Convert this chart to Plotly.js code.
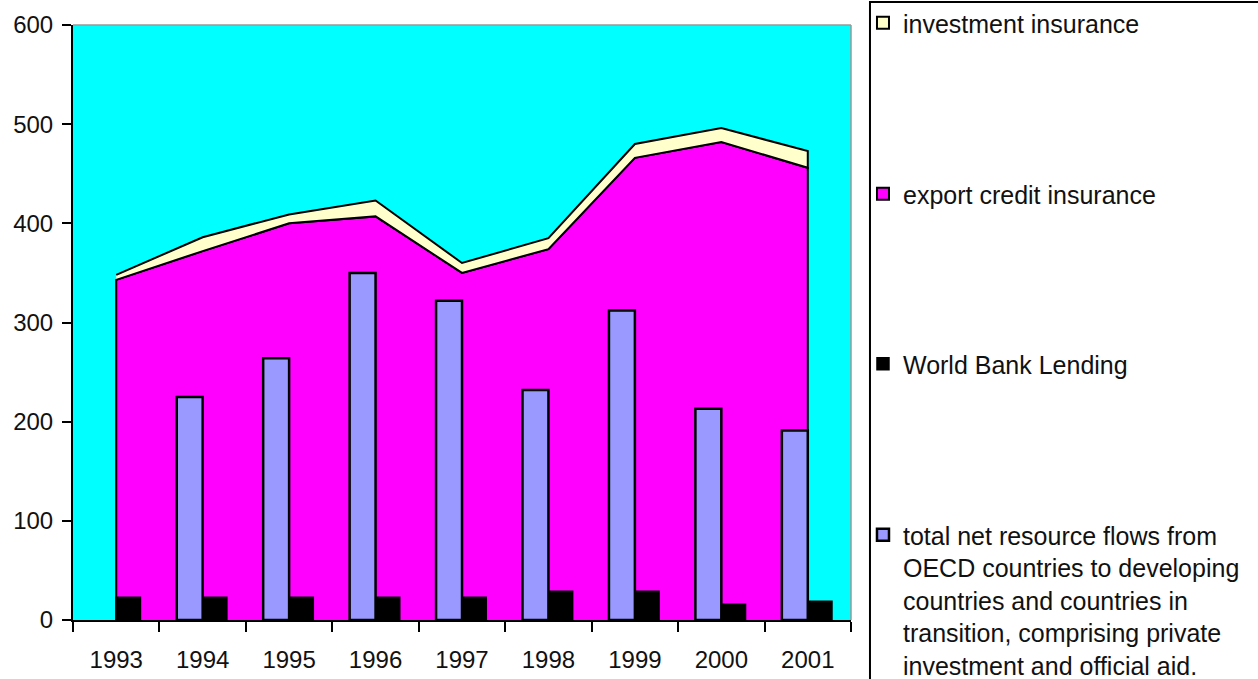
<!DOCTYPE html>
<html>
<head>
<meta charset="utf-8">
<script src="https://cdn.plot.ly/plotly-3.0.1.min.js"></script>
<style>html,body{margin:0;padding:0;background:#fff;}#chart{width:1258px;height:679px;}</style>
</head>
<body>
<div id="chart"></div>
<script>
// ---- data ----
const years = ["1993","1994","1995","1996","1997","1998","1999","2000","2001"];
const exportCredit = [343, 372, 400, 407, 350, 374, 466, 482, 456];
const investmentIns = [5, 14, 9, 16, 10, 11, 14, 14, 17];
const worldBank = [23, 23, 23, 23, 23, 29, 29, 16, 19];
const totalNetFlows = [null, 225, 264, 350, 322, 232, 312, 213, 191];

const seriesNames = {
  inv: "investment insurance",
  exp: "export credit insurance",
  wb: "World Bank Lending",
  net: "total net resource flows from<br>OECD countries to developing<br>countries and countries in<br>transition, comprising private<br>investment and official aid."
};
const colors = {inv:"#FFFFCC", exp:"#FF00FF", wb:"#000000", net:"#9999FF", bg:"#00FFFF"};

// stacked top of the investment-insurance band
const stackTop = exportCredit.map((v, i) => v + investmentIns[i]);

const first = years[0], last = years[years.length - 1];

// export credit area polygon (closed down to zero at both ends)
const expX = [first].concat(years, [last]);
const expY = [0].concat(exportCredit, [0]);
// investment insurance band polygon
const invX = years.concat(years.slice().reverse());
const invY = stackTop.concat(exportCredit.slice().reverse());

const FONT = "Liberation Sans, Arial, Helvetica, sans-serif";

const traces = [
  {type:"scatter", mode:"lines", x:expX, y:expY, fill:"toself", fillcolor:colors.exp,
   line:{color:"#000", width:2}, showlegend:false, hoverinfo:"skip", xaxis:"x", yaxis:"y"},
  {type:"scatter", mode:"lines", x:invX, y:invY, fill:"toself", fillcolor:colors.inv,
   line:{color:"#000", width:2}, showlegend:false, hoverinfo:"skip", xaxis:"x", yaxis:"y"},
  // legend entries for the two areas (square swatches like the original)
  {type:"bar", x:[first], y:[null], name:seriesNames.inv, legend:"legend",
   marker:{color:colors.inv, line:{color:"#000", width:2}}, xaxis:"x2", yaxis:"y2"},
  {type:"bar", x:[first], y:[null], name:seriesNames.exp, legend:"legend2",
   marker:{color:colors.exp, line:{color:"#000", width:2}}, xaxis:"x2", yaxis:"y2"},
  {type:"bar", x:years, y:worldBank, name:seriesNames.wb, legend:"legend3",
   width:0.28, offset:0.0,
   marker:{color:colors.wb, line:{color:"#000", width:1.5}}, xaxis:"x2", yaxis:"y2"},
  {type:"bar", x:years, y:totalNetFlows, name:seriesNames.net, legend:"legend4",
   width:0.3, offset:-0.3,
   marker:{color:colors.net, line:{color:"#000", width:2.5}}, xaxis:"x2", yaxis:"y2"}
];

const tickFont = {family:FONT, size:24, color:"#111"};

function legendAt(topPx) {
  return {xref:"container", yref:"container", x:0.686, y:1 - topPx / 679, xanchor:"left", yanchor:"top",
          valign:"top", font:{family:FONT, size:25, color:"#111"}, bgcolor:"rgba(0,0,0,0)", borderwidth:0};
}

const layout = {
  width:1258, height:679,
  margin:{l:73, r:407, t:25, b:59},
  paper_bgcolor:"#fff",
  plot_bgcolor:colors.bg,
  barmode:"overlay",
  font:{family:FONT, size:24, color:"#111"},
  xaxis:{type:"category", categoryorder:"array", categoryarray:years, range:[-0.5, 8.5],
         tickson:"boundaries", ticks:"outside", ticklen:10, tickwidth:2, tickcolor:"#000",
         showline:true, linecolor:"#000", linewidth:2, showgrid:false, zeroline:false,
         tickfont:tickFont, ticklabelstandoff:17, fixedrange:true},
  yaxis:{range:[0, 600], dtick:100, ticks:"outside", ticklen:9, tickwidth:2, tickcolor:"#000",
         showline:true, linecolor:"#000", linewidth:2, showgrid:false, zeroline:false,
         tickfont:tickFont, ticklabelstandoff:4, fixedrange:true},
  xaxis2:{type:"category", categoryorder:"array", categoryarray:years, range:[-0.5, 8.5],
          overlaying:"x", visible:false, fixedrange:true},
  yaxis2:{range:[0, 600], overlaying:"y", visible:false, fixedrange:true},
  legend:legendAt(0),
  legend2:legendAt(171),
  legend3:legendAt(341),
  legend4:legendAt(512),
  shapes:[
    {type:"line", xref:"paper", yref:"paper", x0:0, x1:1, y0:1, y1:1, line:{color:"#999", width:1.5}, layer:"above"},
    {type:"line", xref:"paper", yref:"paper", x0:1, x1:1, y0:0, y1:1, line:{color:"#999", width:1.5}, layer:"above"},
    {type:"rect", xref:"paper", yref:"paper", x0:1.0244, x1:1.56, y0:1.0387, y1:-0.2,
     line:{color:"#000", width:2}, fillcolor:"rgba(0,0,0,0)", layer:"above"}
  ],
  showlegend:true,
  hovermode:false
};

Plotly.newPlot("chart", traces, layout, {displayModeBar:false, staticPlot:true});
</script>
</body>
</html>
